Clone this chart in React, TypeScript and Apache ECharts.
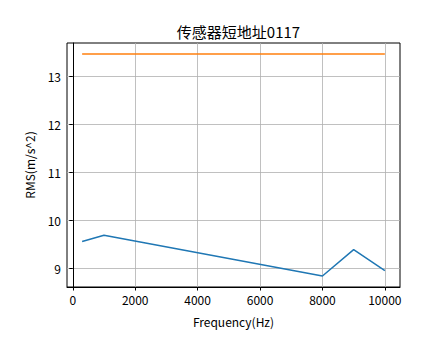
import React, { useEffect, useRef } from "react";
import * as echarts from "echarts";

const title = "传感器短地址0117";
const xName = "Frequency(Hz)";
const yName = "RMS(m/s^2)";
const frequencies = [300, 1000, 8000, 9000, 10000];
const rmsValues = [9.56, 9.69, 8.84, 9.39, 8.95];
const thresholdX = [300, 10000];
const thresholdValues = [13.47, 13.47];
const xTicks = [0, 2000, 4000, 6000, 8000, 10000];
const yTicks = [9, 10, 11, 12, 13];

const FONT = "'Noto Sans CJK SC', sans-serif";

export default function App() {
  const ref = useRef<HTMLDivElement>(null);
  useEffect(() => {
    const chart = echarts.init(ref.current!, null, { renderer: "svg" });
    chart.setOption({
      animation: false,
      backgroundColor: "#ffffff",
      title: {
        text: title,
        left: 233.5,
        textAlign: "center",
        top: 19,
        textStyle: { fontFamily: FONT, fontSize: 15, fontWeight: "normal", color: "#000" },
      },
      grid: {
        left: 67,
        right: 44,
        top: 43,
        bottom: 72,
        show: true,
        borderColor: "#000",
        borderWidth: 1,
        backgroundColor: "transparent",
      },
      xAxis: {
        type: "value",
        min: -185,
        max: 10485,
        name: xName,
        nameLocation: "middle",
        nameGap: 28,
        nameTextStyle: { fontFamily: FONT, fontSize: 12, color: "#000" },
        axisLine: { show: true, lineStyle: { color: "#000", width: 1 } },
        axisTick: { show: true, length: 3.5, lineStyle: { color: "#000" }, customValues: xTicks },
        axisLabel: {
          fontFamily: FONT,
          fontSize: 12,
          color: "#000",
          margin: 6,
          customValues: xTicks,
          formatter: (v: number) => String(v),
        },
        splitLine: { show: true, lineStyle: { color: "#b0b0b0", width: 0.8 } },
      },
      yAxis: {
        type: "value",
        min: 8.61,
        max: 13.7,
        name: yName,
        nameLocation: "middle",
        nameGap: 32,
        nameRotate: 90,
        nameTextStyle: { fontFamily: FONT, fontSize: 12, color: "#000" },
        axisLine: { show: true, lineStyle: { color: "#000", width: 1 } },
        axisTick: { show: true, length: 3.5, lineStyle: { color: "#000" }, customValues: yTicks },
        axisLabel: {
          fontFamily: FONT,
          fontSize: 12,
          color: "#000",
          margin: 6,
          customValues: yTicks,
          formatter: (v: number) => String(v),
        },
        splitLine: { show: true, lineStyle: { color: "#b0b0b0", width: 0.8 } },
      },
      series: [
        {
          type: "line",
          data: frequencies.map((f, i) => [f, rmsValues[i]]),
          showSymbol: false,
          lineStyle: { color: "#1f77b4", width: 1.5 },
          itemStyle: { color: "#1f77b4" },
        },
        {
          type: "line",
          data: thresholdX.map((f, i) => [f, thresholdValues[i]]),
          showSymbol: false,
          lineStyle: { color: "#ff7f0e", width: 1.5 },
          itemStyle: { color: "#ff7f0e" },
        },
      ],
    });
    return () => chart.dispose();
  }, []);
  return <div ref={ref} style={{ width: 444, height: 359, position: "absolute", left: 0, top: 0 }} />;
}
